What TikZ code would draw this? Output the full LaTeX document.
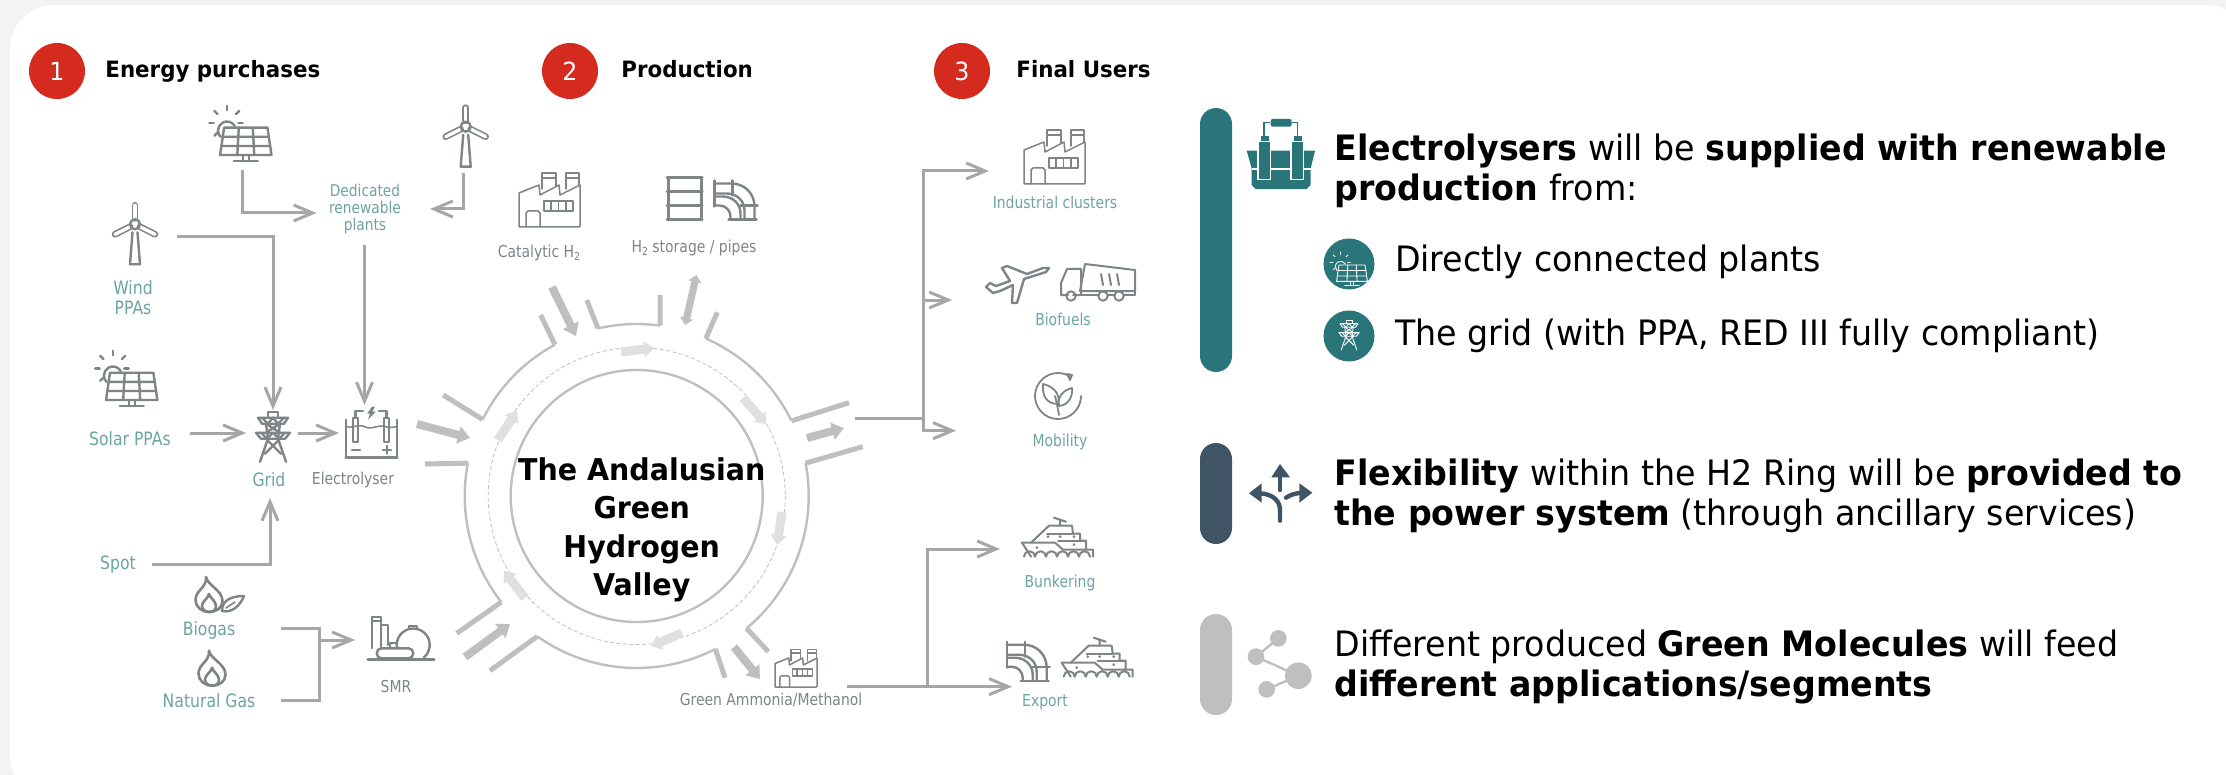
\documentclass[tikz,border=0pt]{standalone}
\usepackage{fontspec}
\setmainfont{DejaVu Sans}[FakeStretch=0.95,BoldFeatures={FakeStretch=0.95}]
\newfontfamily\labf{DejaVu Sans}[FakeStretch=0.85]
\usetikzlibrary{arrows.meta,calc}
\definecolor{bgout}{HTML}{F3F3F3}
\definecolor{redc}{HTML}{D52B1E}
\definecolor{tealt}{HTML}{6BA5A1}
\definecolor{grayt}{HTML}{7F8487}
\definecolor{linec}{HTML}{A6A6A6}
\definecolor{ringc}{HTML}{BFBFBF}
\definecolor{lightc}{HTML}{E0E0E0}
\definecolor{pillteal}{HTML}{2A7579}
\definecolor{pillblue}{HTML}{3F5566}
\colorlet{iconcol}{grayt}
\newcommand{\fs}[1]{\fontsize{#1}{#1}\selectfont}
\newcommand{\sbt}[1]{\raisebox{-.3ex}{\fontsize{5.5}{6}\selectfont #1}}
\tikzset{
  ic/.style={draw=iconcol,line width=1.2pt,line join=round,line cap=round},
  icthin/.style={draw=iconcol,line width=.75pt,line join=round,line cap=round},
  conn/.style={draw=linec,line width=1.5pt,-{Straight Barb[length=9.5pt,width=8pt,line width=1.5pt]}},
  plain/.style={draw=linec,line width=1.5pt},
  ring/.style={draw=ringc,line width=1.2pt},
  rtick/.style={draw=ringc,line width=2.5pt},
  fat/.style={draw=ringc,line width=4pt,-{Triangle[length=6pt,width=8.5pt]}},
  fatboth/.style={draw=ringc,line width=3.6pt,{Triangle[length=3.5pt,width=6.5pt]}-{Triangle[length=3.5pt,width=6.5pt]}},
  pale/.style={draw=lightc,line width=4.5pt,-{Triangle[length=5pt,width=8pt]}},
  tl/.style={text=tealt,inner sep=0pt,align=center},
  gl/.style={text=grayt,inner sep=0pt,align=center},
  hd/.style={text=black,font=\bfseries\fs{11.25},inner sep=0pt,anchor=base west},
  num/.style={circle,fill=redc,text=white,minimum size=28pt,inner sep=0pt,font=\fs{12.5}},
  bodyt/.style={text=black,font=\fs{17.5},inner sep=0pt,anchor=base west},
  solarp/.pic={
    \draw[ic] (-21.7,-33.3)--(21.7,-33.3)--(25.7,-6)--(-25.7,-6)--cycle;
    \draw[ic] (-7,-33.3)--(-8.5,-6) (7,-33.3)--(8.5,-6) (-23,-24.2)--(23,-24.2) (-24.4,-15)--(24.4,-15);
    \draw[ic] (-3,-6)--(-3,-1) (3,-6)--(3,-1) (-12,0)--(12,0);
    \draw[ic] (-11,-35) arc[start angle=-30,end angle=-225,radius=9];
    \foreach \a in {-45,-90,-135,-180,-225}{\draw[ic] (-19,-37.7) ++(\a:13) -- ++(\a:4.5);}
    \draw[ic] (-7.5,-37.7)--(-3,-37.7);
  },
  windp/.pic={
    \draw[ic] (-2.5,8)--(-5,40)--(5,40)--(2.5,8);
    \draw[ic,double=white,double distance=1.7pt,line width=.8pt] (0,-6)--(0,-19);
    \draw[ic,double=white,double distance=1.7pt,line width=.8pt] (-5,2.5)--(-20,10);
    \draw[ic,double=white,double distance=1.7pt,line width=.8pt] (5,2.5)--(20,10);
    \draw[ic] (0,0) circle[radius=5];
  },
  factoryp/.pic={
    \draw[icthin] (0,0)--(0,-34)--(20,-42)--(21,-32)--(40,-42)--(41,-32)--(61,-42)--(61,-1)--(60,0)--cycle;
    \draw[icthin] (23,-38)--(23,-54)--(37,-54)--(37,-41) (23,-49)--(37,-49);
    \draw[icthin] (47,-38)--(47,-54)--(60,-54)--(60,-42) (47,-49)--(60,-49);
    \draw[icthin] (7,0)--(7,-14)--(9,-16)--(19,-16)--(21,-14)--(21,0);
    \draw[icthin] (25,-26) rectangle (54,-16);
    \foreach \x in {32,39.5,47}{\draw[icthin] (\x,-26)--(\x,-16);}
  },
  drump/.pic={
    \draw[ic,line width=1.5pt] (0,0)--(35,0) (0,-42)--(35,-42) (1,0)--(1,-42) (34,0)--(34,-42);
    \draw[ic,line width=1.5pt] (0,-14)--(35,-14) (0,-28)--(35,-28);
  },
  pipep/.pic={
    \draw[ic] (0,-37)--(17,-37) .. controls (30,-37) and (40,-27) .. (40,-14) -- (40,-1);
    \draw[ic] (0,-27)--(12,-27) .. controls (22,-27) and (30,-20) .. (30,-10) -- (30,-1);
    \draw[ic] (0,-24)--(8,-24) .. controls (19,-24) and (26,-16) .. (26,-7) -- (26,-1);
    \draw[ic] (0,-15)--(5,-15) .. controls (12,-15) and (16,-9) .. (16,-4) -- (16,-1);
    \draw[ic] (0,-40)--(0,-14) (18,-40)--(18,-25) (14,-1)--(42,-1) (26,-15)--(43,-15);
  },
  planep/.pic={
    \draw[ic] (64,-35)--(61,-31)--(39,-24)--(32,0)--(27,0)--(28,-18)--(15,-12)--(8,-10)--(1,-16)--(5,-20)--(11,-17)--(25,-22)--(17,-35)--(22,-37)--(42,-29)--(58,-35)--cycle;
  },
  truckp/.pic={
    \draw[icthin,line width=1pt] (24,-37)--(74,-31)--(74,-10)--(19,-10)--cycle;
    \draw[icthin,line width=1pt] (20,-32)--(6,-32)--(0,-18)--(0,-6)--(7,-6) (20,-32)--(20,-6)--(12,-6);
    \draw[icthin,line width=1pt] (20,-6)--(37,-6) (47,-6)--(53,-6) (63,-6)--(74,-6)--(74,-10);
    \foreach \x in {10,42,58}{\draw[icthin,line width=1pt] (\x,-5) circle[radius=4.7];}
    \draw[icthin,line width=1pt] (40,-27)--(42,-16) (48,-27)--(50,-16) (56,-27)--(58,-16);
  },
  globep/.pic={
    \draw[icthin,line width=.9pt] (0,0) ++(-55:23) arc[start angle=-55,end angle=-360,radius=23];
    \draw[icthin,line width=.9pt] (9,-22)--(14,-21)--(12,-16)--cycle;
    \draw[icthin,line width=.9pt] (1,19) .. controls (-1,8) and (-2,4) .. (-3,0);
    \draw[icthin,line width=.9pt] (0,8) .. controls (-12,8) and (-16,-1) .. (-15,-12) .. controls (-6,-10) and (3,-3) .. (0,8);
    \draw[icthin,line width=.9pt] (1,10) .. controls (12,9) and (15,-2) .. (14,-8) .. controls (6,-6) and (-1,0) .. (1,10);
  },
  shipp/.pic={
    \draw[icthin,line width=1pt] (0,-19)--(33,-19)--(41,-12)--(71,-12)--(71,-5);
    \draw[icthin,line width=1pt] (0,-19)--(9,-5);
    \draw[icthin,line width=1pt] (2,-5) arc[start angle=-180,end angle=0,radius=5.5] arc[start angle=-180,end angle=0,radius=5.5] arc[start angle=-180,end angle=0,radius=5.5] arc[start angle=-180,end angle=0,radius=5.5] arc[start angle=-180,end angle=0,radius=5.5] arc[start angle=-180,end angle=0,radius=5.5];
    \draw[icthin,line width=1pt] (9,-19)--(27,-36)--(50,-36)--(51,-28)--(58,-28)--(58,-21)--(64,-21)--(64,-12);
    \draw[icthin,line width=1pt] (25,-28)--(51,-28) (36,-21)--(64,-21);
    \draw[icthin,line width=1pt] (38,-36)--(38,-42) (32,-44)--(44,-40);
    \foreach \p in {(26,-25),(38,-25),(52,-25),(15,-14),(52,-17)}{\fill[iconcol] \p circle[radius=1.5];}
  },
  pylonp/.pic={
    \draw[ic] (-13,50)--(-5,27)--(-7,12) (13,50)--(5,27)--(7,12);
    \draw[ic] (-5,0) rectangle (5,6);
    \draw[ic] (-15,6)--(15,6)--(11,12)--(-11,12)--cycle;
    \draw[ic] (-17,21)--(17,21)--(12,27)--(-12,27)--cycle;
    \draw[ic] (-11,6)--(-5,12)--(0,6)--(5,12)--(11,6) (-12,21)--(-6,27)--(0,21)--(6,27)--(12,21);
    \draw[ic] (-7,12)--(7,21) (7,12)--(-7,21) (-7,27)--(8,42) (7,27)--(-8,42);
  },
  cellp/.pic={
    \draw[ic] (0,13)--(0,51)--(51,51)--(51,13);
    \draw[ic,line width=1.7pt] (0,51)--(51,51);
    \draw[ic] (7,11) rectangle (12,35);
    \draw[ic] (38,11) rectangle (43,35);
    \draw[ic] (9.5,11)--(9.5,4)--(17,4) (40.5,11)--(40.5,4)--(33,4);
    \fill[iconcol] (26,0)--(21,7)--(24,7)--(22,13)--(30,5)--(26.5,5)--(29,0)--cycle;
    \draw[icthin] (0,20) .. controls (6,22) and (12,17) .. (19,20) .. controls (26,24) and (32,17) .. (40,20) .. controls (44,22) and (48,20) .. (51,20);
    \draw[ic] (6,43)--(14,43) (37,43)--(45,43) (41,39)--(41,47);
  },
  flamep/.pic={
    \draw[ic,line width=1.3pt] (-3,-35) .. controls (-1,-26) and (13.5,-22) .. (13.5,-11) .. controls (13.5,-4) and (7,0) .. (0,0) .. controls (-7,0) and (-13.5,-5) .. (-13.5,-12) .. controls (-13.5,-22) and (-2,-24) .. (-3,-35) -- cycle;
    \draw[ic,line width=1.3pt] (0,-18) .. controls (1,-14) and (7,-11) .. (7,-6) .. controls (7,-2) and (4,0) .. (0,0) .. controls (-4,0) and (-7,-3) .. (-7,-6) .. controls (-7,-11) and (-1,-13) .. (0,-18) -- cycle;
  },
  leafp/.pic={
    \draw[ic,line width=1.2pt] (0,0) .. controls (0,-10) and (8,-15) .. (22,-15) .. controls (18,-5) and (10,2) .. (0,0) -- cycle;
    \draw[ic,line width=.8pt] (4,-3)--(13,-9);
  },
  smrp/.pic={
    \draw[ic] (4,31)--(4,0)--(13,0)--(13,31) (4,4)--(13,4);
    \draw[ic] (13,8)--(20,8)--(20,28);
    \draw[ic] (22,31)--(22,26)--(29,26)--(29,31);
    \draw[ic] (29,31) arc[start angle=-190.5,end angle=50,radius=16.5];
    \draw[ic] (41,11)--(41,9)--(49,9)--(49,11);
    \draw[ic,rounded corners=2.4pt] (8.7,31.3) rectangle (45.3,41.3);
    \draw[ic,line width=1.7pt] (0,42.5)--(66,42.5);
  },
}
\begin{document}
\begin{tikzpicture}[x=.5pt,y=-.5pt]
\useasboundingbox (0,0) rectangle (2226,775);
\fill[bgout] (0,0) rectangle (2226,775);
\fill[white,rounded corners=22pt] (10,5) rectangle (2250,800);
% headers
\node[num] (n1) at (57,71) {1};
\node[hd] (h1) at (105,78) {Energy purchases};
\node[num] (n2) at (570,71) {2};
\node[hd] (h2) at (621,78) {Production};
\node[num] (n3) at (962,71) {3};
\node[hd] (h3) at (1016,78) {Final Users};
% left labels
\node[tl,font=\labf\fs{8.1}] (ded) at (365,209) {Dedicated\\[.3pt]renewable\\[.3pt]plants};
\node[tl,font=\labf\fs{9.2}] (wppa) at (133,297.5) {Wind\\[1pt]PPAs};
\node[tl,font=\labf\fs{9.2}] (sppa) at (130,439) {Solar PPAs};
\node[tl,font=\labf\fs{9.2}] (gridl) at (269,480) {Grid};
\node[gl,font=\labf\fs{8.2}] (ell) at (353,480) {Electrolyser};
\node[tl,font=\labf\fs{9.2}] (spotl) at (118,565) {Spot};
\node[tl,font=\labf\fs{9.2}] (biol) at (209,630) {Biogas};
\node[tl,font=\labf\fs{9.2}] (ngl) at (209,700.5) {Natural Gas};
\node[gl,font=\labf\fs{8.2}] (smrl) at (396,687) {SMR};
\node[gl,font=\labf\fs{8.2}] (catl) at (539,253) {Catalytic H\sbt{2}};
\node[gl,font=\labf\fs{8.2}] (stol) at (694,248) {H\sbt{2} storage / pipes};
\node[tl,font=\labf\fs{8.2}] (indl) at (1055,202) {Industrial clusters};
\node[tl,font=\labf\fs{8.2}] (biofl) at (1063,319) {Biofuels};
\node[tl,font=\labf\fs{8.2}] (mobl) at (1060,441.7) {Mobility};
\node[tl,font=\labf\fs{8.2}] (bunl) at (1060,583) {Bunkering};
\node[tl,font=\labf\fs{8.2}] (expl) at (1045,702.7) {Export};
\node[gl,font=\labf\fs{8.2}] (gaml) at (771,700) {Green Ammonia/Methanol};
% icons
\pic at (245.8,161) {solarp};
\pic at (465.7,126.7) {windp};
\pic at (135,224.3) {windp};
\pic at (131.7,406) {solarp};
\pic at (273,411.7) {pylonp};
\pic at (346,406.7) {cellp};
\pic at (209,612) {flamep};
\pic at (222,611) {leafp};
\pic at (212,685.7) {flamep};
\pic at (368,617) {smrp};
\pic at (519,227) {factoryp};
\pic at (667,220) {drump};
\pic at (714.5,220.5) {pipep};
\pic at (1024,184) {factoryp};
\pic at (985,303) {planep};
\pic at (1061,301) {truckp};
\pic at (1058,396) {globep};
\pic at (1022,561.7) {shipp};
\pic at (1006.7,681.7) {pipep};
\pic at (1061.7,681.7) {shipp};
\pic[scale=.69] at (775,687) {factoryp};
% connector ends
\coordinate (sT) at (242,170);
\coordinate (dL) at (316.5,213);
\coordinate (wT) at (463,173);
\coordinate (dR) at (430,209);
\coordinate (wPo) at (177,237);
\coordinate (gT) at (273,410);
\coordinate (dB) at (364.5,245);
\coordinate (eT) at (364.5,405);
\coordinate (sPo) at (190,433);
\coordinate (gL) at (246,433);
\coordinate (gR) at (298,433);
\coordinate (eL) at (339,433);
\coordinate (spo) at (152,564);
\coordinate (gB) at (270,498);
\coordinate (bO) at (281,628);
\coordinate (nO) at (281,700);
\coordinate (jS) at (319,640);
\coordinate (smI) at (355,640);
\coordinate (rO) at (855,418);
\coordinate (jU) at (923,418);
\coordinate (jM) at (923,300);
\coordinate (uI) at (989,171);
\coordinate (uB) at (952,300);
\coordinate (uM) at (956,430.7);
\coordinate (aO) at (847,686.7);
\coordinate (jA) at (927.7,686.7);
\coordinate (uS) at (1000,549);
\coordinate (uX) at (1012,686.7);
% connectors
\draw[conn] (sT) |- (dL);
\draw[conn] (wT) |- (dR);
\draw[conn] (wPo) -| (gT);
\draw[conn] (dB) -- (eT);
\draw[conn] (sPo) -- (gL);
\draw[conn] (gR) -- (eL);
\draw[conn] (spo) -| (gB);
\draw[plain] (bO) -| (319,700) -- (nO);
\draw[conn] (jS) -- (smI);
\draw[plain] (rO) -- (jU);
\draw[conn] (jU) |- (uI);
\draw[conn] (jM) -- (uB);
\draw[conn] (jU) |- (uM);
\draw[conn] (aO) -- (uX);
\draw[conn] (jA) |- (uS);
% ring
\coordinate (rc) at (636.7,496);
\draw[draw=ringc,line width=1.2pt] (rc) circle[radius=126];
\draw[draw=ringc,line width=.4pt,dash pattern=on 2pt off 1.2pt] (rc) circle[radius=148.5];
\foreach \a/\b in {103/82.2,66.3/25.9,11/-50.3,-62.8/-125.3,-141.9/-191,153.6/118.4}{
  \draw[ring] (rc) ++({-\a}:172) arc[start angle={-\a},end angle={-\b},radius=172];
}
\foreach \a/\x/\y in {118.4/540.7/315,103/586.7/300,82.2/660/295,66.3/717.3/312.3,25.9/849/402.7,11/862.7/446.7,-50.3/768.3/651.7,-62.8/725/677.7,-125.3/490/670.7,-141.9/456.7/633.3,169/425/464,153.6/443.3/395}{
  \draw[rtick] (rc) ++({-\a}:172) -- (\x,\y);
}
\draw[fat] (552,287) -- (576,336);
\draw[fatboth] (696.5,275) -- (685,325);
\draw[fat] (807,438) -- (844,428);
\draw[fat] (734,647) -- (760,679);
\draw[fat] (465,657) -- (510,624);
\draw[fat] (417,424) -- (470,438);
\draw[pale] (621,352) -- (654,348);
\draw[pale] (743,398) -- (766,424);
\draw[pale] (782,512) -- (777,545);
\draw[pale] (682,633) -- (651,646);
\draw[pale] (525,598) -- (504,571);
\draw[pale] (498,440) -- (517,411);
\node[font=\bfseries\fs{15},inner sep=0pt,align=center,text=black] (ctr) at (641.7,530) {The Andalusian\\[4.25pt]Green\\[4.25pt]Hydrogen\\[4.25pt]Valley};
% right side
\fill[pillteal,rounded corners=8pt] (1200,108) rectangle (1232,372);
\fill[pillblue,rounded corners=8pt] (1200,443) rectangle (1232,544);
\fill[ringc,rounded corners=8pt] (1200,614) rectangle (1232,715);
% big electrolyser icon
\begin{scope}[shift={(1180,90)},x=.16667pt,y=-.16667pt]
\fill[pillteal] (200,182)--(405,182)--(392,235)--(392,285)--(380,297)--(227,297)--(215,285)--(215,235)--cycle;
\draw[white,line width=.6pt] (215,237)--(392,237);
\draw[pillteal,line width=.6pt,fill=pillteal] (245,140) rectangle (265,152) (343,140) rectangle (363,152);
\draw[white,line width=.6pt,fill=pillteal] (234,155) rectangle (272,268) (333,155) rectangle (371,268);
\draw[pillteal,line width=.8pt] (252,140)--(252,98)--(270,98) (352,140)--(352,98)--(335,98);
\fill[pillteal,rounded corners=1pt] (272,87) rectangle (335,110);
\end{scope}
\node[bodyt] (t1) at (1334,160.7) {\textbf{Electrolysers} will be \textbf{supplied with renewable}};
\node[bodyt] (t2) at (1334,200.7) {\textbf{production} from:};
\node[circle,fill=pillteal,minimum size=25.5pt,inner sep=0pt] (c1) at (1349,264) {};
\node[circle,fill=pillteal,minimum size=25.5pt,inner sep=0pt] (c2) at (1349,336) {};
\begin{scope}
\colorlet{iconcol}{white}
\tikzset{ic/.append style={line width=.45pt},icthin/.append style={line width=.45pt}}
\pic[scale=.6] at (1352,285) {solarp};
\pic[scale=.6] at (1349,320) {pylonp};
\end{scope}
\node[bodyt] (t3) at (1394.7,271.7) {Directly connected plants};
\node[bodyt] (t4) at (1394.7,345) {The grid (with PPA, RED III fully compliant)};
% flexibility icon
\begin{scope}[shift={(1180,420)},x=.16667pt,y=-.16667pt]
\draw[pillblue,line width=2.2pt,line cap=round] (300,302)--(300,270) .. controls (300,240) and (275,222) .. (240,220);
\draw[pillblue,line width=2.2pt,line cap=round] (318,233) .. controls (330,225) and (345,220) .. (365,218);
\draw[pillblue,line width=2.2pt,line cap=round] (300,210)--(300,165);
\fill[pillblue] (274,172)--(300,132)--(330,172)--cycle;
\fill[pillblue] (207,220)--(245,190)--(245,248)--cycle;
\fill[pillblue] (397,218)--(358,190)--(358,248)--cycle;
\end{scope}
\node[bodyt] (t5) at (1334,485) {\textbf{Flexibility} within the H2 Ring will be \textbf{provided to}};
\node[bodyt] (t6) at (1334,525) {\textbf{the power system} (through ancillary services)};
% molecules icon
\begin{scope}[shift={(1180,420)},x=.16667pt,y=-.16667pt]
\draw[ringc,line width=1.2pt] (295,655)--(228,710)--(355,767)--(260,808);
\fill[ringc] (295,655) circle[radius=25] (228,710) circle[radius=25] (260,808) circle[radius=25] (355,767) circle[radius=40];
\end{scope}
\node[bodyt] (t7) at (1334,656.7) {Different produced \textbf{Green Molecules} will feed};
\node[bodyt] (t8) at (1334,696.7) {\textbf{different applications/segments}};
\end{tikzpicture}
\end{document}
